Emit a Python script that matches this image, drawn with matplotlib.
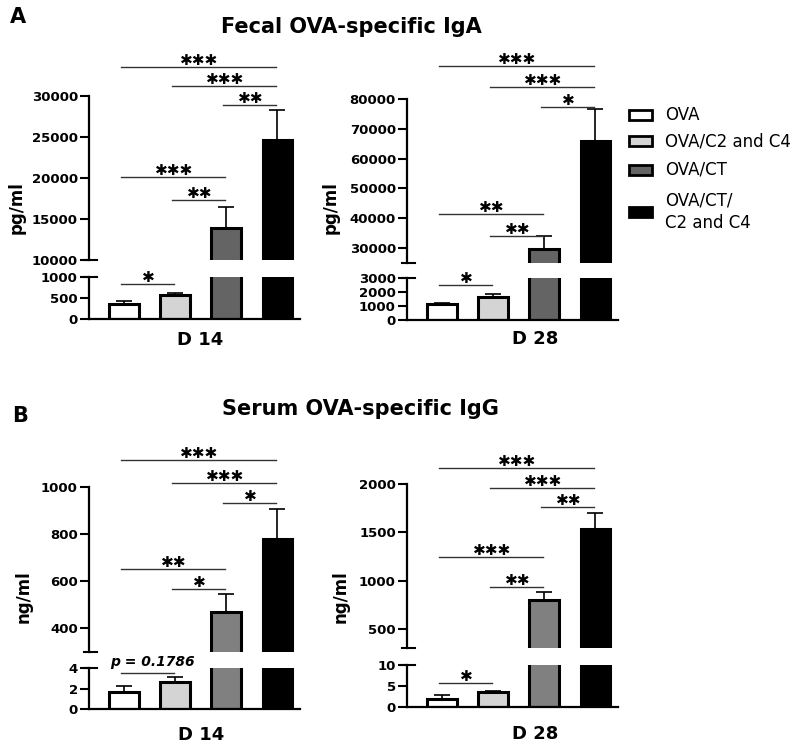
import matplotlib
matplotlib.use('Agg')
import matplotlib.pyplot as plt
import numpy as np
from matplotlib.patches import Rectangle

plt.rcParams['font.family'] = 'DejaVu Sans'
plt.rcParams['font.weight'] = 'bold'

W, H = 800, 749

groups = ['OVA', 'OVA/C2 and C4', 'OVA/CT', 'OVA/CT/\nC2 and C4']
colors_a = ['white', '#d4d4d4', '#646464', 'black']
colors_b = ['white', '#d4d4d4', '#808080', 'black']

# fecal OVA-specific IgA, pg/ml
iga_d14 = [357, 571, 13900, 24650]
iga_d14_err = [75, 45, 2550, 3650]
iga_d28 = [1120, 1640, 29500, 65900]
iga_d28_err = [130, 220, 4400, 10600]

# serum OVA-specific IgG, ng/ml
igg_d14 = [1.66, 2.63, 468, 779]
igg_d14_err = [0.58, 0.47, 77, 127]
igg_d28 = [1.9, 3.5, 800, 1535]
igg_d28_err = [0.9, 0.4, 83, 165]

# (group i, group j, line height, label)
sig_iga_d14 = [(0, 3, 33540, '***'), (1, 3, 31220, '***'), (2, 3, 28900, '**'),
               (0, 2, 20120, '***'), (1, 2, 17320, '**')]
sig_iga_d14_lo = [(0, 1, 833, '*')]
sig_iga_d28 = [(0, 3, 91000, '***'), (1, 3, 84000, '***'), (2, 3, 77300, '*'),
               (0, 2, 41300, '**'), (1, 2, 33900, '**')]
sig_iga_d28_lo = [(0, 1, 2500, '*')]
sig_igg_d14 = [(0, 3, 1115, '***'), (1, 3, 1017, '***'), (2, 3, 932, '*'),
               (0, 2, 651, '**'), (1, 2, 566, '*')]
sig_igg_d14_lo = [(0, 1, 3.5, 'p = 0.1786')]
sig_igg_d28 = [(0, 3, 2165, '***'), (1, 3, 1960, '***'), (2, 3, 1760, '**'),
               (0, 2, 1245, '***'), (1, 2, 935, '**')]
sig_igg_d28_lo = [(0, 1, 5.7, '*')]

fig = plt.figure(figsize=(8, 7.49), dpi=100)


def px_rect(x0, x1, ytop, ybot):
    return [x0 / W, 1 - ybot / H, (x1 - x0) / W, (ybot - ytop) / H]


def add_sig(ax, sigs):
    for i, j, y, lab in sigs:
        ax.plot([i - 0.05, j - 0.02], [y, y], color='#333333', lw=1.0,
                clip_on=False)
        if lab.startswith('p'):
            ax.annotate(lab, xy=((i + j) / 2 + 0.05, y), xytext=(0, 4),
                        textcoords='offset pixels', ha='center', va='bottom',
                        fontsize=10, style='italic', fontweight='bold',
                        annotation_clip=False)
        else:
            stars = lab.replace('*', '\u2731')
            ax.annotate(stars, xy=((i + j) / 2 - 0.02, y), xytext=(0, 2),
                        textcoords='offset pixels', ha='center', va='baseline',
                        fontsize=11, fontweight='bold', annotation_clip=False)


def panel(x0, up, lo, vals, errs, colors, up_lim, lo_lim, up_ticks, lo_ticks,
          sig_up, sig_lo):
    x = np.arange(4)
    x1 = x0 + 211
    ax_up = fig.add_axes(px_rect(x0, x1, up[0], up[1]))
    ax_lo = fig.add_axes(px_rect(x0, x1, lo[0], lo[1]))
    for ax, lim, ticks in [(ax_up, up_lim, up_ticks), (ax_lo, lo_lim, lo_ticks)]:
        ax.bar(x, vals, width=0.57, color=colors, edgecolor='black',
               linewidth=2.2, zorder=2)
        ax.errorbar(x, vals, yerr=[np.zeros(4), errs], fmt='none',
                    ecolor='black', elinewidth=1.2, capsize=6, capthick=1.2,
                    zorder=1)
        ax.set_xlim(-0.686, 3.45)
        ax.set_ylim(*lim)
        ax.set_yticks(ticks)
        ax.set_xticks([])
        ax.spines['top'].set_visible(False)
        ax.spines['right'].set_visible(False)
        ax.spines['left'].set_linewidth(1.6)
        ax.spines['bottom'].set_linewidth(1.6)
        ax.tick_params(axis='y', direction='out', length=6.5, width=1.5,
                       labelsize=9.5, pad=1.5)
        ax.patch.set_visible(False)
    ax_up.spines['bottom'].set_visible(False)
    # axis break marks
    wpx = x1 - x0
    ax_up.plot([-5 / wpx, 8 / wpx], [0, 0], transform=ax_up.transAxes,
               color='black', lw=1.5, clip_on=False)
    ax_lo.plot([-5 / wpx, 8 / wpx], [1, 1], transform=ax_lo.transAxes,
               color='black', lw=1.5, clip_on=False)
    add_sig(ax_up, sig_up)
    add_sig(ax_lo, sig_lo)


panel(89, (96, 260), (277, 319), iga_d14, iga_d14_err, colors_a,
      (10000, 30000), (0, 1000), [10000, 15000, 20000, 25000, 30000],
      [0, 500, 1000], sig_iga_d14, sig_iga_d14_lo)
panel(407, (99, 262.9), (278, 320), iga_d28, iga_d28_err, colors_a,
      (25000, 80000), (0, 3000), [30000, 40000, 50000, 60000, 70000, 80000],
      [0, 1000, 2000, 3000], sig_iga_d28, sig_iga_d28_lo)
panel(89, (487, 651.5), (668, 709), igg_d14, igg_d14_err, colors_b,
      (300, 1000), (0, 4), [400, 600, 800, 1000], [0, 2, 4],
      sig_igg_d14, sig_igg_d14_lo)
panel(407, (484, 648.3), (665, 707), igg_d28, igg_d28_err, colors_b,
      (300, 2000), (0, 10), [500, 1000, 1500, 2000], [0, 5, 10],
      sig_igg_d28, sig_igg_d28_lo)

# titles, panel letters, axis labels
fig.text(351 / W, 1 - 33 / H, 'Fecal OVA-specific IgA', ha='center',
         va='baseline', fontsize=15)
fig.text(360 / W, 1 - 415 / H, 'Serum OVA-specific IgG', ha='center',
         va='baseline', fontsize=15)
fig.text(10 / W, 1 - 23 / H, 'A', va='baseline', fontsize=15)
fig.text(12 / W, 1 - 422 / H, 'B', va='baseline', fontsize=15)
for xc, yc, lab in [(17, 208, 'pg/ml'), (331, 208, 'pg/ml'),
                    (24, 597, 'ng/ml'), (341, 597, 'ng/ml')]:
    fig.text(xc / W, 1 - yc / H, lab, rotation=90, ha='center', va='center',
             fontsize=12)
for xc, yc, lab in [(200, 340, 'D 14'), (535, 339, 'D 28'),
                    (201, 735, 'D 14'), (535, 734, 'D 28')]:
    fig.text(xc / W, 1 - yc / H, lab, ha='center', va='center', fontsize=13)

# legend
for lab, col, yc in zip(groups, colors_a, [115, 141, 170, 212]):
    fig.add_artist(Rectangle((629 / W, 1 - (yc + 4.5) / H), 23 / W, 9 / H,
                             transform=fig.transFigure, facecolor=col,
                             edgecolor='black', lw=2))
    fig.text(665 / W, 1 - yc / H, lab, ha='left', va='center', fontsize=12,
             fontweight='normal', linespacing=1.3)

fig.savefig('out.png', dpi=100)
